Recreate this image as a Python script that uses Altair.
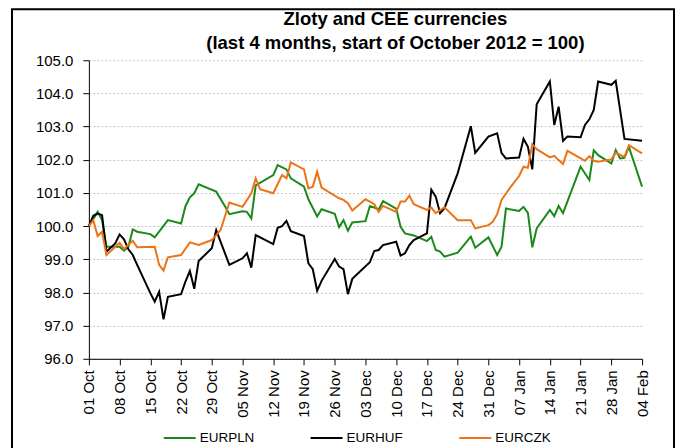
import altair as alt
import pandas as pd

START = "2012-10-01"
SERIES = ["EURPLN", "EURHUF", "EURCZK"]
COLORS = ["#1B8A1B", "#000000", "#EC7318"]

# day offsets from 01 Oct 2012 and index values (start of October 2012 = 100)
pln_days = [0, 2, 3, 4, 7, 8, 9, 10, 11, 14,
            15, 18, 21, 22, 23, 24, 25, 29, 31, 32,
            35, 36, 37, 38, 42, 43, 45, 46, 49, 50,
            52, 53, 56, 57, 58, 59, 60, 63, 64, 65,
            66, 67, 70, 71, 72, 74, 77, 78, 79, 80,
            81, 84, 87, 88, 91, 93, 94, 95, 98, 99,
            100, 101, 102, 105, 106, 107, 108, 112, 114, 115,
            116, 119, 120, 121, 122, 123, 126]
pln_vals = [100.0, 100.43, 100.18, 99.38, 99.38, 99.26, 99.38, 99.9, 99.83, 99.76,
            99.66, 100.18, 100.08, 100.6, 100.87, 100.99, 101.26, 101.04, 100.6, 100.36,
            100.45, 100.43, 100.23, 101.23, 101.54, 101.84, 101.71, 101.44, 101.19, 100.81,
            100.29, 100.51, 100.37, 99.97, 100.18, 99.86, 100.11, 100.15, 100.6, 100.56,
            100.5, 100.75, 100.53, 99.98, 99.78, 99.72, 99.55, 99.68, 99.28, 99.23,
            99.08, 99.2, 99.68, 99.35, 99.66, 99.13, 99.38, 100.53, 100.46, 100.58,
            100.4, 99.36, 99.93, 100.49, 100.3, 100.61, 100.39, 101.79, 101.39, 102.29,
            102.14, 101.89, 102.29, 102.04, 102.06, 102.39, 101.19]

huf_days = [0, 1, 2, 3, 4, 6, 7, 8, 9, 10,
            11, 14, 15, 16, 17, 18, 21, 22, 23, 24,
            25, 28, 29, 32, 35, 36, 37, 38, 42, 43,
            44, 45, 46, 49, 50, 51, 52, 53, 56, 57,
            58, 59, 60, 64, 65, 66, 67, 70, 71, 72,
            73, 74, 77, 78, 79, 80, 81, 84, 87, 88,
            91, 93, 94, 95, 98, 99, 100, 101, 102, 105,
            106, 107, 108, 109, 112, 113, 114, 115, 116, 119,
            120, 122, 126]
huf_vals = [100.0, 100.31, 100.38, 100.33, 99.23, 99.48, 99.75, 99.6, 99.3, 99.13,
            98.83, 97.98, 97.72, 98.02, 97.19, 97.87, 97.95, 98.33, 98.65, 98.11,
            98.95, 99.33, 99.88, 98.83, 99.03, 99.18, 98.75, 99.73, 99.46, 99.95,
            100.0, 100.16, 99.85, 99.7, 98.88, 98.7, 98.05, 98.35, 99.01, 98.78,
            98.7, 97.95, 98.41, 98.91, 99.25, 99.28, 99.43, 99.53, 99.11, 99.18,
            99.43, 99.58, 99.78, 101.1, 100.89, 100.39, 100.54, 101.59, 103.01, 102.21,
            102.7, 102.8, 102.2, 102.04, 102.07, 102.63, 102.39, 101.71, 103.67, 104.36,
            103.05, 103.6, 102.57, 102.7, 102.68, 103.05, 103.22, 103.5, 104.36, 104.26,
            104.38, 102.63, 102.57]

czk_days = [0, 1, 2, 3, 4, 7, 8, 10, 11, 15,
            16, 17, 18, 21, 23, 25, 28, 30, 32, 35,
            37, 38, 39, 42, 44, 45, 46, 49, 50, 51,
            52, 53, 57, 58, 59, 60, 63, 64, 65, 66,
            67, 70, 71, 72, 73, 74, 77, 78, 79, 81,
            84, 87, 88, 91, 92, 93, 94, 96, 98, 99,
            100, 101, 102, 105, 106, 107, 108, 109, 113, 114,
            115, 116, 119, 120, 122, 123, 126]
czk_vals = [100.0, 100.18, 99.7, 99.83, 99.13, 99.5, 99.31, 99.56, 99.36, 99.38,
            98.83, 98.66, 99.06, 99.13, 99.51, 99.43, 99.58, 99.88, 100.71, 100.58,
            100.99, 101.44, 101.11, 100.99, 101.54, 101.44, 101.92, 101.71, 101.14, 101.19,
            101.64, 101.16, 100.84, 100.79, 100.69, 100.47, 100.81, 100.74, 100.66, 100.43,
            100.61, 100.43, 100.74, 100.74, 100.92, 100.66, 100.49, 100.56, 100.39, 100.57,
            100.18, 100.18, 99.93, 100.03, 100.13, 100.36, 100.79, 101.17, 101.51, 101.79,
            101.76, 102.47, 102.32, 102.07, 102.12, 101.99, 101.87, 102.27, 101.97, 102.11,
            101.97, 101.94, 102.01, 102.21, 102.09, 102.44, 102.19]

Y_TICKS = [96, 97, 98, 99, 100, 101, 102, 103, 104, 105]
X_TICK_DAYS = list(range(0, 127, 7))

start = pd.Timestamp(START)
rows = []
for name, days, vals in [("EURPLN", pln_days, pln_vals),
                         ("EURHUF", huf_days, huf_vals),
                         ("EURCZK", czk_days, czk_vals)]:
    for d, v in zip(days, vals):
        rows.append({"date": (start + pd.Timedelta(days=d)).strftime("%Y-%m-%d"),
                     "value": v, "series": name})
df = pd.DataFrame(rows)


def dt(days):
    t = start + pd.Timedelta(days=days)
    return alt.DateTime(year=t.year, month=t.month, date=t.day, utc=True)


x_enc = alt.X(
    "date:T",
    scale=alt.Scale(type="utc", domain=[dt(0), dt(126)]),
    axis=alt.Axis(values=[dt(d) for d in X_TICK_DAYS],
                  labelExpr="utcFormat(datum.value, '%d %b')",
                  labelAngle=270, grid=False, tickSize=6, labelPadding=5, title=None,
                  labelFontSize=15, labelOverlap=False),
)
y_enc = alt.Y(
    "value:Q",
    scale=alt.Scale(domain=[96, 105], nice=False, zero=False),
    axis=alt.Axis(values=Y_TICKS, format=".1f", grid=True, tickSize=6, labelPadding=10,
                  title=None, labelFontSize=15, gridColor="#c4c4c4", gridDash=[2, 2],
                  gridWidth=1),
)

lines = alt.Chart(df).mark_line(strokeWidth=2).encode(
    x=x_enc,
    y=y_enc,
    color=alt.Color(
        "series:N",
        scale=alt.Scale(domain=SERIES, range=COLORS),
        legend=alt.Legend(orient="none", legendX=74, legendY=361, direction="horizontal",
                          title=None, symbolType="stroke", symbolSize=1024,
                          symbolStrokeWidth=2, labelFontSize=13.5, labelOffset=3,
                          columnPadding=52, padding=0, labelColor="black"),
    ),
    order=alt.Order("date:T"),
)

frame = alt.Chart(pd.DataFrame({"k": [0]})).mark_rect(
    fill="transparent", stroke="black", strokeWidth=2
).encode(
    x=alt.value(-77), x2=alt.value(586), y=alt.value(-51), y2=alt.value(392)
)

chart = alt.layer(frame, lines).properties(
    width=554,
    height=299,
    padding={"left": 3, "top": 0, "right": 0, "bottom": 0},
    title=alt.TitleParams(
        text=["Zloty and CEE currencies", "(last 4 months, start of October 2012 = 100)"],
        fontSize=18.5, fontWeight="bold", font="Liberation Sans", anchor="middle",
        frame="group", dx=30, offset=-44, lineHeight=24, color="black",
    ),
).configure(
    font="Liberation Sans"
).configure_view(
    strokeWidth=0
).configure_axis(
    labelFont="Liberation Sans", labelColor="black", tickColor="black",
    domainColor="black", domainWidth=1
).configure_legend(
    labelFont="Liberation Sans"
)

chart.save("out.html", embed_options={"renderer": "svg", "actions": False})
